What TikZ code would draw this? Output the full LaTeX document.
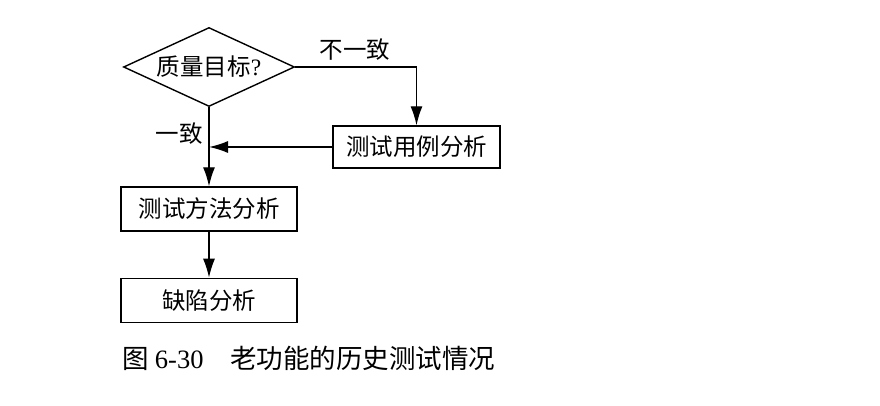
\documentclass[tikz,border=0pt]{standalone}
\usepackage{fontspec}
\setmainfont{Liberation Serif}
\newfontfamily\cjk{Noto Sans CJK SC}
\usetikzlibrary{positioning, shapes.geometric, arrows.meta}

\begin{document}
\begin{tikzpicture}[x = 1pt, y = -1pt,
    every node/.style = { font = \cjk\fontsize{23.5}{26}\selectfont },
    box/.style = { draw, line width = 1.4pt, minimum width = 176pt, minimum height = 44pt, inner sep = 0pt },
    test/.style = { draw, line width = 1.4pt, shape = diamond, aspect = 2.2, minimum width = 171pt, minimum height = 79pt, inner sep = 0pt },
    flow/.style = { draw, line width = 1.4pt, -{Latex[length = 19pt, width = 12pt]} }]
  \useasboundingbox (0,0) rectangle (880,406);
  \node [test] (goal) at (209,67) { 质量目标{\rmfamily ?} };
  \node [box, minimum width = 167pt, minimum height = 42pt] (cases) at (416.5,147) { 测试用例分析 };
  \node [box] (method) at (209,209) { 测试方法分析 };
  \node [box, below = 46pt of method] (defect) { 缺陷分析 };
  \coordinate (join) at (goal.south |- cases.west);
  \draw [flow] (goal.east) -| (cases.north);
  \draw [flow] (cases.west) -- (join);
  \draw [flow] (goal.south) -- (method.north);
  \draw [flow] (method.south) -- (defect.north);
  \node (no) at (355,50) { 不一致 };
  \node (yes) at (179,134) { 一致 };
  \node [anchor = west, font = \cjk\fontsize{26.5}{30}\selectfont] (caption) at (119,358) { 图 {\rmfamily 6-30}\quad 老功能的历史测试情况 };
\end{tikzpicture}
\end{document}
